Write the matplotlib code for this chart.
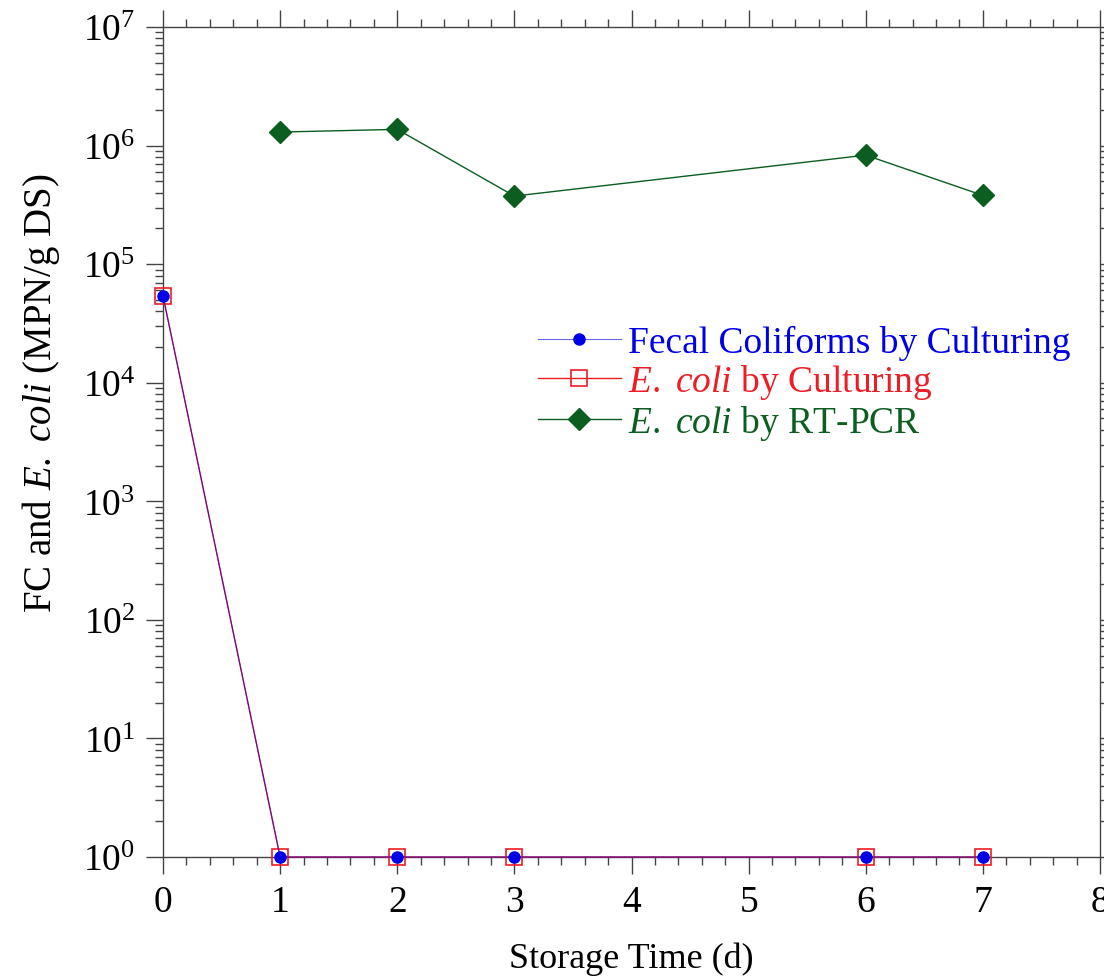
import matplotlib
matplotlib.use("Agg")
import matplotlib.pyplot as plt
import numpy as np
from matplotlib.ticker import LogLocator, MultipleLocator, NullFormatter

plt.rcParams['font.family'] = ['Liberation Serif', 'DejaVu Serif']
plt.rcParams['mathtext.fontset'] = 'custom'
plt.rcParams['mathtext.rm'] = 'Liberation Serif'
plt.rcParams['mathtext.it'] = 'Liberation Serif:italic'

# Storage time (d) and counts (MPN/g DS)
days_culture = [0, 1, 2, 3, 6, 7]
fc_culture = [5.4e4, 1, 1, 1, 1, 1]
ecoli_culture = [5.4e4, 1, 1, 1, 1, 1]
days_pcr = [1, 2, 3, 6, 7]
ecoli_pcr = [1.3e6, 1.37e6, 3.75e5, 8.3e5, 3.8e5]

blue = '#0000e6'
red = '#ee1c24'
green = '#0b5e1f'

fig = plt.figure(figsize=(11.04, 9.79), dpi=100)
ax = fig.add_axes([163 / 1104, 1 - 858 / 979, 937 / 1104, 830 / 979])

ax.plot(days_culture, ecoli_culture, color=red, lw=1.0, marker='s', ms=12,
        mfc='none', mec=red, mew=1.2, label='$\\mathit{E.\\ coli}$ by Culturing',
        zorder=3, clip_on=False)
ax.plot(days_culture, fc_culture, color=(0, 0, 0.9, 0.6), lw=0.8, marker='o', ms=8,
        mfc=blue, mec=blue, label='Fecal Coliforms by Culturing',
        zorder=4, clip_on=False)
ax.plot(days_pcr, ecoli_pcr, color=green, lw=1.0, marker='D', ms=11,
        mfc=green, mec=green, label='$\\mathit{E.\\ coli}$ by RT-PCR', zorder=3)

ax.set_yscale('log')
ax.set_xlim(0, 8)
ax.set_ylim(1, 1e7)
ax.xaxis.set_major_locator(MultipleLocator(1))
ax.xaxis.set_minor_locator(MultipleLocator(0.2))
ax.yaxis.set_major_locator(LogLocator(base=10, numticks=20))
ax.yaxis.set_minor_locator(LogLocator(base=10, subs=np.arange(2, 10), numticks=20))
ax.yaxis.set_minor_formatter(NullFormatter())

ax.tick_params(which='both', direction='out', top=True, right=True,
               labelsize=27, color='#444444')
ax.tick_params(which='major', length=12, width=1.0, pad=8)
ax.tick_params(which='minor', length=6, width=1.0)
for s in ax.spines.values():
    s.set_color('#444444')
    s.set_linewidth(1.0)

ax.set_xlabel('Storage Time (d)', fontsize=26, labelpad=16)
ax.set_ylabel('FC and $\\mathit{E.\\ coli}$ (MPN/g DS)', fontsize=28)
ax.yaxis.set_label_coords(-0.108, 0.56)

handles, labels = ax.get_legend_handles_labels()
order = [1, 0, 2]
leg = ax.legend([handles[i] for i in order], [labels[i] for i in order],
                loc='upper left', bbox_to_anchor=(538 / 1104, 1 - 326 / 979),
                bbox_transform=fig.transFigure, frameon=False, fontsize=27,
                handlelength=2.2, handletextpad=0.2, labelspacing=0.05,
                borderpad=0, borderaxespad=0)
for txt, c in zip(leg.get_texts(), [blue, red, green]):
    txt.set_color(c)

fig.savefig('out.png', dpi=100)
